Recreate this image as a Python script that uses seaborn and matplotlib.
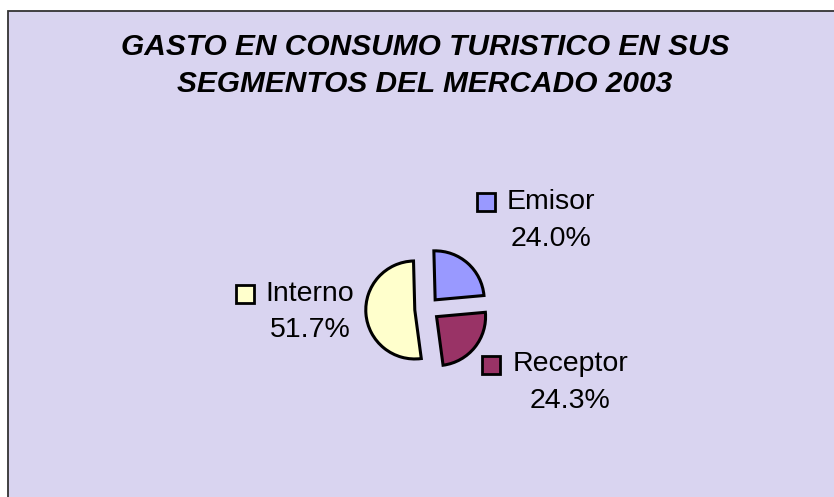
import matplotlib
matplotlib.use("Agg")
import matplotlib.pyplot as plt
from matplotlib.patches import Rectangle
import seaborn as sns

# data
segments = ["Emisor", "Receptor", "Interno"]
shares = [24.0, 24.3, 51.7]
colors = ["#9999FF", "#993366", "#FFFFCC"]
title = "GASTO EN CONSUMO TURISTICO EN SUS\nSEGMENTOS DEL MERCADO 2003"

# label block centres (data units, pie radius = 1)
label_pos = [(2.53, 1.81), (2.92, -1.50), (-2.39, -0.06)]

sns.set_theme(style="white")
plt.rcParams['font.family'] = ['Liberation Sans', 'DejaVu Sans']

W, H = 834, 497
fig = plt.figure(figsize=(W / 100, H / 100), dpi=100)
fig.patch.set_facecolor("white")

# chart area box
fig.patches.append(Rectangle((7.5 / W, -0.1), 1.2, (H - 10.5) / H + 0.1,
                             transform=fig.transFigure, facecolor="#D9D4F0",
                             edgecolor="#333333", linewidth=1.3, zorder=-5))

ax = fig.add_axes([0, 0, 1, 1])
ax.set_zorder(2)
ax.patch.set_alpha(0)

# pixel scale: radius 49 px, centre at (427, 309) from top-left
r_px, cx, cy = 49, 427, 309
wedges, _ = ax.pie(shares, colors=colors, startangle=91.5, counterclock=False,
                   explode=[0.25] * 3,
                   wedgeprops=dict(edgecolor="black", linewidth=2.2))
ax.set_aspect("auto")
ax.set_xlim(-cx / r_px, (W - cx) / r_px)
ax.set_ylim(-(H - cy) / r_px, cy / r_px)
ax.axis("off")

texts = []
for name, val, (x, y) in zip(segments, shares, label_pos):
    t = ax.text(x, y, f"{name}\n{val:.1f}%", ha="center", va="center",
                multialignment="center", fontsize=20.5, linespacing=1.52,
                color="black")
    texts.append(t)

fig.canvas.draw()
renderer = fig.canvas.get_renderer()
inv = ax.transData.inverted()
for t, c in zip(texts, colors):
    bb = t.get_window_extent(renderer)
    # square sits left of the first line
    sx, sy = inv.transform((bb.x0 - 21, (bb.y0 + bb.y1) / 2 + 18))
    ax.plot([sx], [sy], marker="s", ms=13, mfc=c, mec="black", mew=2,
            clip_on=False)

fig.text(425 / W, 1 - 65.5 / H, title, ha="center", va="center",
         fontsize=21.5, fontweight="bold", fontstyle="italic",
         linespacing=1.45, color="black", zorder=3)

fig.savefig("out.png", dpi=100)
